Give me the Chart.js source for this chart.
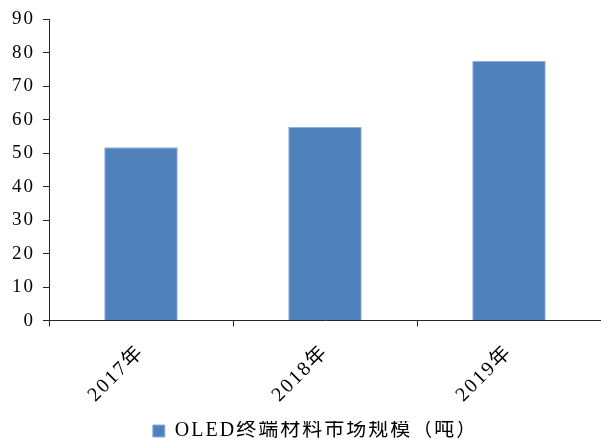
<!DOCTYPE html>
<html>
<head>
<meta charset="utf-8">
<script src="https://cdn.jsdelivr.net/npm/chart.js@4/dist/chart.umd.min.js"></script>
<style>
  html, body { margin: 0; padding: 0; background: #fff; }
  #wrap { width: 601px; height: 442px; }
</style>
</head>
<body>
<div id="wrap"><canvas id="market"></canvas></div>
<script>
const years = ['2017年', '2018年', '2019年'];
const marketSize = [51.8, 57.9, 77.6];
const seriesName = 'OLED终端材料市场规模（吨）';

const FONT = '"Liberation Serif", "Noto Sans CJK SC", serif';
const axisColor = '#262626';

// spread the glyphs a little, like the wide serif face used in the report;
// the canvas state is reset on resize, so set it before layout and drawing
const spacing = {
    id: 'spacing',
    beforeUpdate(chart) { chart.ctx.letterSpacing = '2px'; },
    beforeLayout(chart) { chart.ctx.letterSpacing = '2px'; },
    beforeDraw(chart) { chart.ctx.letterSpacing = '2px'; }
};

const chart = new Chart(document.getElementById('market'), {
    type: 'bar',
    data: {
        labels: years,
        datasets: [{
            label: seriesName,
            data: marketSize,
            backgroundColor: '#4f81bd',
            borderColor: '#8fb0d8',
            borderWidth: 1,
            barPercentage: 0.4,
            categoryPercentage: 1
        }]
    },
    options: {
        responsive: true,
        maintainAspectRatio: false,
        animation: false,
        layout: { padding: { top: 8, right: 0, left: 4, bottom: 0 } },
        plugins: {
            tooltip: { enabled: false },
            legend: {
                position: 'bottom',
                labels: {
                    color: '#000',
                    font: { family: FONT, size: 20 },
                    boxWidth: 12,
                    boxHeight: 12,
                    padding: 0
                }
            }
        },
        scales: {
            x: {
                border: { color: axisColor, width: 1 },
                grid: {
                    offset: true,
                    drawOnChartArea: false,
                    drawTicks: true,
                    tickLength: 6,
                    color: axisColor
                },
                ticks: {
                    color: '#000',
                    font: { family: FONT, size: 20 },
                    minRotation: 45,
                    maxRotation: 45,
                    padding: 14
                }
            },
            y: {
                min: 0,
                max: 90,
                border: { color: axisColor, width: 1 },
                grid: {
                    drawOnChartArea: false,
                    drawTicks: true,
                    tickLength: 6,
                    color: axisColor
                },
                ticks: {
                    stepSize: 10,
                    color: '#000',
                    font: { family: FONT, size: 19 },
                    padding: 8
                }
            }
        }
    },
    plugins: [spacing]
});

// the legend sits in a tight strip along the bottom edge,
// nudged right of the canvas centre
const legend = chart.legend;
const origFit = legend.fit.bind(legend);
const origDraw = legend.draw.bind(legend);
legend.fit = function () {
    origFit();
    this.height = 21;
};
legend.draw = function () {
    const ctx = chart.ctx;
    ctx.save();
    ctx.translate(13, 0);
    origDraw();
    ctx.restore();
};
chart.update();
</script>
</body>
</html>
